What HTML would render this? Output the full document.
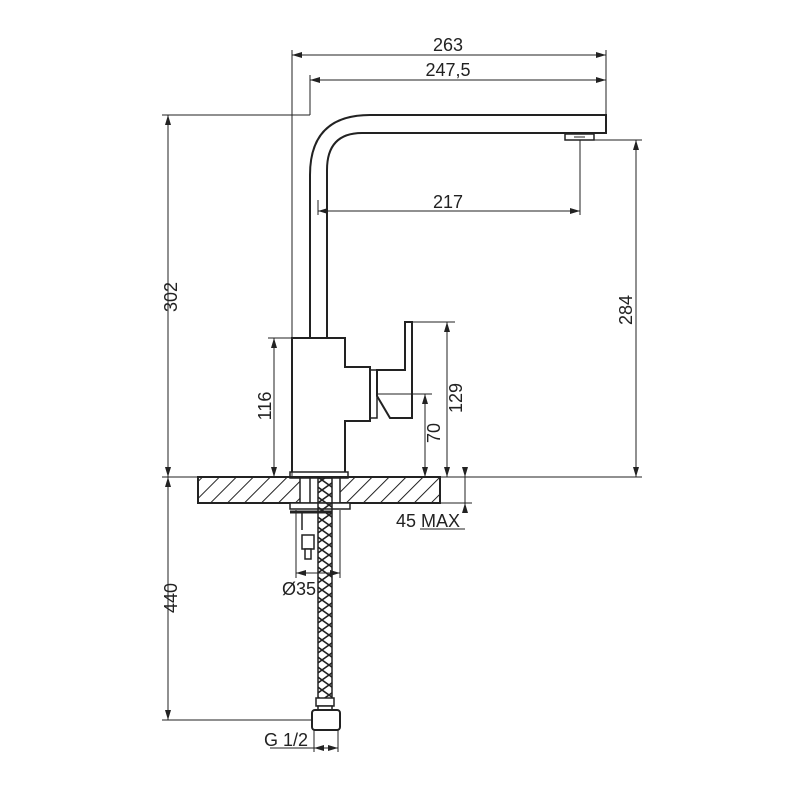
<!DOCTYPE html>
<html><head><meta charset="utf-8"><style>body{margin:0;background:#fff}svg{display:block}text{font-family:"Liberation Sans","DejaVu Sans",sans-serif;font-size:18px;fill:#222}</style></head><body>
<svg width="800" height="800" viewBox="0 0 800 800" xmlns="http://www.w3.org/2000/svg">
<defs>
<marker id="a" viewBox="0 0 10 6" refX="10" refY="3" markerWidth="10" markerHeight="6" orient="auto-start-reverse" markerUnits="userSpaceOnUse"><path d="M0,0L10,3L0,6z" fill="#222"/></marker>
<pattern id="h" patternUnits="userSpaceOnUse" width="12" height="12" patternTransform="rotate(45)"><line x1="0" y1="0" x2="0" y2="12" stroke="#222" stroke-width="2"/></pattern>
<pattern id="x" patternUnits="userSpaceOnUse" width="14" height="10"><path d="M0,0L14,10M14,0L0,10" stroke="#222" stroke-width="1.6"/></pattern>
</defs>
<g stroke="#222" fill="none" stroke-width="1">
<line x1="292" y1="50" x2="292" y2="477"/>
<line x1="310" y1="75" x2="310" y2="115"/>
<line x1="606" y1="50" x2="606" y2="115"/>
<line x1="162" y1="115" x2="310" y2="115"/>
<line x1="162" y1="477" x2="642" y2="477"/>
<line x1="580" y1="140" x2="642" y2="140"/>
<line x1="580" y1="140" x2="580" y2="215"/>
<line x1="318" y1="200" x2="318" y2="215"/>
<line x1="268" y1="338" x2="292" y2="338"/>
<line x1="412" y1="322" x2="455" y2="322"/>
<line x1="377" y1="394" x2="432" y2="394"/>
<line x1="440" y1="503" x2="472" y2="503"/>
<line x1="162" y1="720" x2="314" y2="720"/>
<line x1="296" y1="510" x2="296" y2="578"/>
<line x1="340" y1="510" x2="340" y2="578"/>
<line x1="314" y1="730" x2="314" y2="752"/>
<line x1="338" y1="730" x2="338" y2="752"/>
<line x1="292" y1="55" x2="606" y2="55" marker-start="url(#a)" marker-end="url(#a)"/>
<line x1="310" y1="80" x2="606" y2="80" marker-start="url(#a)" marker-end="url(#a)"/>
<line x1="318" y1="211" x2="580" y2="211" marker-start="url(#a)" marker-end="url(#a)"/>
<line x1="168" y1="115" x2="168" y2="477" marker-start="url(#a)" marker-end="url(#a)"/>
<line x1="636" y1="140" x2="636" y2="477" marker-start="url(#a)" marker-end="url(#a)"/>
<line x1="274" y1="338" x2="274" y2="477" marker-start="url(#a)" marker-end="url(#a)"/>
<line x1="447" y1="322" x2="447" y2="477" marker-start="url(#a)" marker-end="url(#a)"/>
<line x1="425" y1="394" x2="425" y2="477" marker-start="url(#a)" marker-end="url(#a)"/>
<line x1="465" y1="467" x2="465" y2="477" marker-end="url(#a)"/>
<line x1="465" y1="513" x2="465" y2="503" marker-end="url(#a)"/>
<line x1="465" y1="477" x2="465" y2="503"/>
<line x1="420" y1="529" x2="465" y2="529"/>
<line x1="296" y1="573" x2="340" y2="573" marker-start="url(#a)" marker-end="url(#a)"/>
<line x1="168" y1="477" x2="168" y2="720" marker-start="url(#a)" marker-end="url(#a)"/>
<line x1="270" y1="748" x2="314" y2="748"/>
<line x1="314" y1="748" x2="338" y2="748" marker-start="url(#a)" marker-end="url(#a)"/>
</g>
<g stroke="#222" fill="none" stroke-width="2">
<path d="M310,338 V175 Q310,115 370,115 H606 V133 H362 Q327,133 327,170 V338"/>
<path d="M565,134 H594 V140 H565z" stroke-width="1.5"/>
<line x1="574" y1="137" x2="585" y2="137" stroke-width="1"/>
<path d="M292,472 V338 H345 V367 H370 V421 H345 V472"/>
<rect x="290" y="472" width="58" height="6" stroke-width="1.5"/>
<path d="M370,370 H377 V418 H370z" stroke-width="1.5"/>
<path d="M405,322 H412 V418 H390 L377,396 V370 H405z"/>
<line x1="377" y1="394" x2="412" y2="394" stroke-width="1"/>
<rect x="198" y="477" width="242" height="26" fill="url(#h)"/>
<rect x="300" y="478" width="40" height="25" fill="#fff" stroke-width="1.5"/>
<line x1="310" y1="478" x2="310" y2="503" stroke-width="1.5"/>
<rect x="290" y="503" width="60" height="6" fill="#fff" stroke-width="1.5"/>
<line x1="290" y1="512" x2="332" y2="512" stroke-width="3"/>
<line x1="302" y1="512" x2="302" y2="530" stroke-width="1.5"/>
<rect x="302" y="535" width="12" height="14" fill="#fff" stroke-width="1.5"/>
<rect x="305" y="549" width="6" height="10" fill="#fff" stroke-width="1.5"/>
<rect x="318" y="478" width="14" height="228" fill="url(#x)" stroke-width="1.5"/>
<rect x="316" y="698" width="18" height="8" fill="#fff" stroke-width="1.5"/>
<rect x="318" y="706" width="14" height="8" fill="#fff" stroke-width="1.5"/>
<rect x="312" y="710" width="28" height="20" rx="3" fill="#fff"/>
</g>
<text x="448" y="51" text-anchor="middle">263</text>
<text x="448" y="76" text-anchor="middle">247,5</text>
<text x="448" y="208" text-anchor="middle">217</text>
<text x="428" y="527" text-anchor="middle">45 MAX</text>
<text x="299" y="595" text-anchor="middle">Ø35</text>
<text x="286" y="746" text-anchor="middle">G 1/2</text>
<text transform="translate(177,297) rotate(-90)" text-anchor="middle">302</text>
<text transform="translate(632,310) rotate(-90)" text-anchor="middle">284</text>
<text transform="translate(271,406) rotate(-90)" text-anchor="middle">116</text>
<text transform="translate(462,398) rotate(-90)" text-anchor="middle">129</text>
<text transform="translate(440,433) rotate(-90)" text-anchor="middle">70</text>
<text transform="translate(177,598) rotate(-90)" text-anchor="middle">440</text>
</svg>
</body></html>
